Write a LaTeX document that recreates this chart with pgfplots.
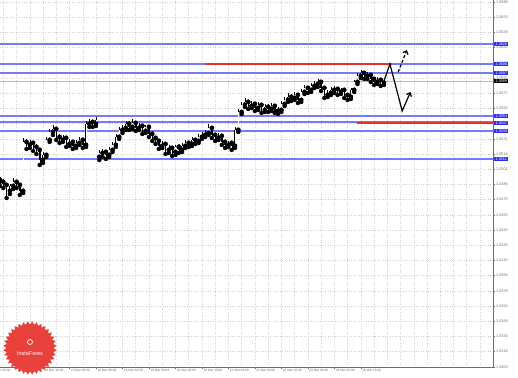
\documentclass[border=0pt]{standalone}
\usepackage{fontspec}
\setmainfont{Liberation Sans}
\usepackage{pgfplots}
\pgfplotsset{compat=1.18}
\usepackage{pgfplotstable}
\usetikzlibrary{arrows.meta,shapes.geometric}
\definecolor{lvl}{RGB}{120,120,250}
\definecolor{lvlbox}{RGB}{45,45,235}
\definecolor{redl}{RGB}{225,50,50}
\definecolor{logored}{RGB}{232,64,58}
\definecolor{lbl}{RGB}{110,110,110}

\pgfplotstableread{
t o h l c
0 1.0490 1.0493 1.0484 1.0488
1 1.0488 1.0491 1.0482 1.0485
2 1.0485 1.0487 1.0472 1.0479
3 1.0479 1.0486 1.0476 1.0484
4 1.0484 1.0492 1.0481 1.0488
5 1.0488 1.0490 1.0482 1.0485
6 1.0485 1.0487 1.0475 1.0479
7 1.0479 1.0532 1.0477 1.0528
8 1.0528 1.0531 1.0521 1.0525
9 1.0525 1.0530 1.0522 1.0527
10 1.0527 1.0529 1.0519 1.0523
11 1.0523 1.0526 1.0516 1.0520
12 1.0520 1.0522 1.0505 1.0510
13 1.0510 1.0518 1.0507 1.0515
14 1.0515 1.0533 1.0513 1.0530
15 1.0530 1.0541 1.0528 1.0538
16 1.0538 1.0545 1.0535 1.0541
17 1.0541 1.0543 1.0530 1.0533
18 1.0533 1.0536 1.0527 1.0530
19 1.0530 1.0535 1.0528 1.0532
20 1.0532 1.0534 1.0523 1.0526
21 1.0526 1.0531 1.0524 1.0528
22 1.0528 1.0530 1.0521 1.0524
23 1.0524 1.0530 1.0522 1.0527
24 1.0527 1.0533 1.0525 1.0530
25 1.0530 1.0532 1.0522 1.0525
26 1.0525 1.0549 1.0523 1.0546
27 1.0546 1.0551 1.0543 1.0548
28 1.0548 1.0550 1.0543 1.0546
29 1.0546 1.0553 1.0544 1.0550
30 1.0513 1.0520 1.0510 1.0517
31 1.0517 1.0521 1.0513 1.0518
32 1.0518 1.0520 1.0511 1.0515
33 1.0515 1.0523 1.0513 1.0520
34 1.0520 1.0528 1.0518 1.0525
35 1.0525 1.0536 1.0523 1.0533
36 1.0533 1.0543 1.0531 1.0540
37 1.0540 1.0545 1.0537 1.0542
38 1.0542 1.0549 1.0540 1.0546
39 1.0546 1.0549 1.0540 1.0543
40 1.0543 1.0551 1.0541 1.0547
41 1.0547 1.0549 1.0539 1.0542
42 1.0542 1.0547 1.0540 1.0544
43 1.0544 1.0546 1.0536 1.0539
44 1.0539 1.0545 1.0537 1.0543
45 1.0543 1.0545 1.0533 1.0536
46 1.0536 1.0538 1.0529 1.0532
47 1.0532 1.0534 1.0526 1.0529
48 1.0529 1.0531 1.0521 1.0524
49 1.0524 1.0529 1.0522 1.0526
50 1.0526 1.0528 1.0516 1.0520
51 1.0520 1.0525 1.0517 1.0522
52 1.0522 1.0524 1.0514 1.0518
53 1.0518 1.0525 1.0515 1.0523
54 1.0523 1.0526 1.0517 1.0520
55 1.0520 1.0527 1.0518 1.0524
56 1.0524 1.0530 1.0522 1.0527
57 1.0527 1.0529 1.0523 1.0526
58 1.0526 1.0533 1.0524 1.0530
59 1.0530 1.0532 1.0526 1.0529
60 1.0529 1.0536 1.0527 1.0533
61 1.0533 1.0538 1.0531 1.0535
62 1.0535 1.0540 1.0533 1.0537
63 1.0537 1.0546 1.0535 1.0542
64 1.0542 1.0544 1.0532 1.0535
65 1.0535 1.0537 1.0529 1.0532
66 1.0532 1.0537 1.0530 1.0534
67 1.0534 1.0536 1.0525 1.0528
68 1.0528 1.0530 1.0522 1.0525
69 1.0525 1.0529 1.0523 1.0527
70 1.0527 1.0529 1.0520 1.0524
71 1.0524 1.0543 1.0522 1.0540
72 1.0540 1.0561 1.0538 1.0558
73 1.0558 1.0568 1.0556 1.0565
74 1.0565 1.0572 1.0563 1.0568
75 1.0568 1.0570 1.0561 1.0564
76 1.0564 1.0569 1.0562 1.0566
77 1.0566 1.0568 1.0559 1.0562
78 1.0562 1.0568 1.0560 1.0565
79 1.0565 1.0567 1.0557 1.0560
80 1.0560 1.0566 1.0558 1.0563
81 1.0563 1.0566 1.0558 1.0561
82 1.0561 1.0567 1.0559 1.0564
83 1.0564 1.0566 1.0557 1.0559
84 1.0559 1.0563 1.0556 1.0560
85 1.0560 1.0569 1.0558 1.0566
86 1.0566 1.0573 1.0564 1.0570
87 1.0570 1.0577 1.0568 1.0573
88 1.0573 1.0576 1.0569 1.0572
89 1.0572 1.0578 1.0570 1.0575
90 1.0575 1.0577 1.0567 1.0570
91 1.0570 1.0581 1.0568 1.0578
92 1.0578 1.0585 1.0576 1.0582
93 1.0582 1.0584 1.0577 1.0580
94 1.0580 1.0587 1.0578 1.0584
95 1.0584 1.0589 1.0582 1.0586
96 1.0586 1.0591 1.0583 1.0588
97 1.0588 1.0590 1.0579 1.0582
98 1.0582 1.0584 1.0572 1.0575
99 1.0575 1.0580 1.0573 1.0577
100 1.0577 1.0583 1.0575 1.0580
101 1.0580 1.0584 1.0577 1.0581
102 1.0581 1.0583 1.0575 1.0578
103 1.0578 1.0582 1.0576 1.0580
104 1.0580 1.0582 1.0572 1.0575
105 1.0575 1.0577 1.0570 1.0573
106 1.0573 1.0582 1.0571 1.0580
107 1.0580 1.0590 1.0578 1.0588
108 1.0588 1.0597 1.0586 1.0594
109 1.0594 1.0600 1.0592 1.0597
110 1.0597 1.0599 1.0591 1.0594
111 1.0594 1.0598 1.0591 1.0595
112 1.0595 1.0597 1.0588 1.0591
113 1.0591 1.0593 1.0585 1.0588
114 1.0588 1.0593 1.0586 1.0590
115 1.0590 1.0592 1.0584 1.0587
116 1.0587 1.0591 1.0585 1.0589
}\candles

\begin{document}
\begin{tikzpicture}
\useasboundingbox (0,0) rectangle (518bp,378bp);
\begin{axis}[
  at={(0bp,11bp)}, anchor=south west,
  scale only axis, width=493bp, height=367bp,
  xmin=0, xmax=148.94, ymin=1.0303, ymax=1.0670,
  axis x line*=bottom, axis y line*=right,
  axis line style={lbl, line width=0.6bp},
  clip=false,
  xtick={5,13,...,109},
  xticklabels={14 Mar 00:00,14 Mar 16:00,15 Mar 08:00,16 Mar 00:00,16 Mar 16:00,19 Mar 08:00,20 Mar 00:00,20 Mar 16:00,21 Mar 08:00,22 Mar 00:00,22 Mar 16:00,23 Mar 08:00,26 Mar 00:00,26 Mar 16:00},
  minor xtick={1,5,...,145},
  xminorgrids, ymajorgrids,
  minor grid style={gray!35, dotted, line width=0.5bp},
  major grid style={gray!35, dotted, line width=0.5bp},
  minor tick length=0pt,
  ytick={1.03032,1.03184,1.03336,1.03488,1.0364,1.03792,1.03944,1.04096,1.04248,1.044,1.04552,1.04704,1.04856,1.05008,1.0516,1.05312,1.05464,1.05616,1.05768,1.0592,1.06072,1.06224,1.06376,1.06528,1.0668},
  yticklabel style={/pgf/number format/.cd, fixed, fixed zerofill, precision=4, /tikz/.cd, font=\fontsize{3.8bp}{4bp}\selectfont, text=lbl, inner sep=1bp},
  xticklabel style={font=\fontsize{3.2bp}{4bp}\selectfont, text=lbl, anchor=north west, inner sep=0.5bp, xshift=0.8bp},
  /pgf/number format/assume math mode=true,
  tick align=outside, major tick length=2bp,
  tick style={lbl, line width=0.4bp},
]
% level lines
\addplot[draw=lvl, line width=1.4bp] coordinates {(0,1.0626) (148.94,1.0626)};
\addplot[draw=lvl, line width=1.4bp] coordinates {(0,1.0606) (148.94,1.0606)};
\addplot[draw=lvl, line width=1.4bp] coordinates {(0,1.0597) (148.94,1.0597)};
\addplot[draw=lvl, line width=1.4bp] coordinates {(0,1.0554) (148.94,1.0554)};
\addplot[draw=lvl, line width=1.4bp] coordinates {(0,1.0548) (148.94,1.0548)};
\addplot[draw=lvl, line width=1.4bp] coordinates {(0,1.0539) (148.94,1.0539)};
\addplot[draw=lvl, line width=1.4bp] coordinates {(0,1.0511) (148.94,1.0511)};
\addplot[draw=gray!55, line width=0.5bp] coordinates {(0,1.0589) (148.94,1.0589)};
\addplot[draw=redl, line width=1.6bp] coordinates {(61.9,1.0606) (118.4,1.0606)};
\addplot[draw=redl, line width=1.6bp] coordinates {(107.9,1.0547) (148.94,1.0547)};
% candles: wicks
\addplot[only marks, mark=none, error bars/.cd, y dir=plus, y explicit, error mark=none,
  error bar style={draw=black, line width=0.4bp}]
  table[x=t, y=l, y error plus expr=\thisrow{h}-\thisrow{l}] {\candles};
% candles: bodies
\addplot[only marks, mark=none, error bars/.cd, y dir=plus, y explicit, error mark=none,
  error bar style={draw=black, line width=1.2bp}]
  table[x=t, y=o, y error plus expr=\thisrow{c}-\thisrow{o}] {\candles};
% candles: hollow interior of rising candles
\addplot[only marks, mark=none, error bars/.cd, y dir=plus, y explicit, error mark=none,
  error bar style={draw=white, line width=0.45bp}]
  table[x=t, y expr=\thisrow{o}+0.00003, y error plus expr={\thisrow{c}>\thisrow{o} ? max(\thisrow{c}-\thisrow{o}-0.00006,0) : 0}] {\candles};
% forecast arrows
\addplot[black, line width=1.2bp, -{Straight Barb[length=3bp,width=5.5bp]}]
  coordinates {(116,1.0589) (117.8,1.0606) (121.5,1.0559) (124,1.0578)};
\addplot[black, line width=1.2bp, dash pattern=on 3bp off 2bp, -{Straight Barb[length=3bp,width=5.5bp]}]
  coordinates {(120.3,1.0598) (122.9,1.0620)};
% price boxes
\node[anchor=west, fill=lvlbox, text=white, font=\fontsize{3.8bp}{4bp}\selectfont, inner xsep=1.2bp, inner ysep=0.7bp, xshift=1.2bp] at (axis cs:148.94,1.0626) {1.0626};
\node[anchor=west, fill=lvlbox, text=white, font=\fontsize{3.8bp}{4bp}\selectfont, inner xsep=1.2bp, inner ysep=0.7bp, xshift=1.2bp] at (axis cs:148.94,1.0606) {1.0606};
\node[anchor=west, fill=lvlbox, text=white, font=\fontsize{3.8bp}{4bp}\selectfont, inner xsep=1.2bp, inner ysep=0.7bp, xshift=1.2bp] at (axis cs:148.94,1.0597) {1.0597};
\node[anchor=west, fill=black, text=white, font=\fontsize{3.8bp}{4bp}\selectfont, inner xsep=1.2bp, inner ysep=0.7bp, xshift=1.2bp] at (axis cs:148.94,1.0589) {1.0589};
\node[anchor=west, fill=lvlbox, text=white, font=\fontsize{3.8bp}{4bp}\selectfont, inner xsep=1.2bp, inner ysep=0.7bp, xshift=1.2bp] at (axis cs:148.94,1.0554) {1.0554};
\node[anchor=west, fill=lvlbox, text=white, font=\fontsize{3.8bp}{4bp}\selectfont, inner xsep=1.2bp, inner ysep=0.7bp, xshift=1.2bp] at (axis cs:148.94,1.0547) {1.0547};
\node[anchor=west, fill=lvlbox, text=white, font=\fontsize{3.8bp}{4bp}\selectfont, inner xsep=1.2bp, inner ysep=0.7bp, xshift=1.2bp] at (axis cs:148.94,1.0539) {1.0539};
\node[anchor=west, fill=lvlbox, text=white, font=\fontsize{3.8bp}{4bp}\selectfont, inner xsep=1.2bp, inner ysep=0.7bp, xshift=1.2bp] at (axis cs:148.94,1.0511) {1.0511};
% partial first date label
\node[font=\fontsize{3.2bp}{4bp}\selectfont, text=lbl, anchor=north west, inner sep=0.5bp, xshift=0.8bp, yshift=-2bp] at (axis cs:-3,1.0303) {13 Mar 08:00};
% logo
\node[star, star points=36, star point ratio=0.88, fill=logored, draw=none, minimum size=47bp, inner sep=0] at (axis cs:9.06,1.0322) {};
\node[circle, draw=white, line width=0.7bp, minimum size=5bp, inner sep=0] at (axis cs:9.06,1.0328) {};
\node[text=white, font=\fontsize{5.5bp}{6bp}\selectfont, inner sep=0] at (axis cs:9.06,1.0316) {InstaForex};
\end{axis}
\end{tikzpicture}
\end{document}
